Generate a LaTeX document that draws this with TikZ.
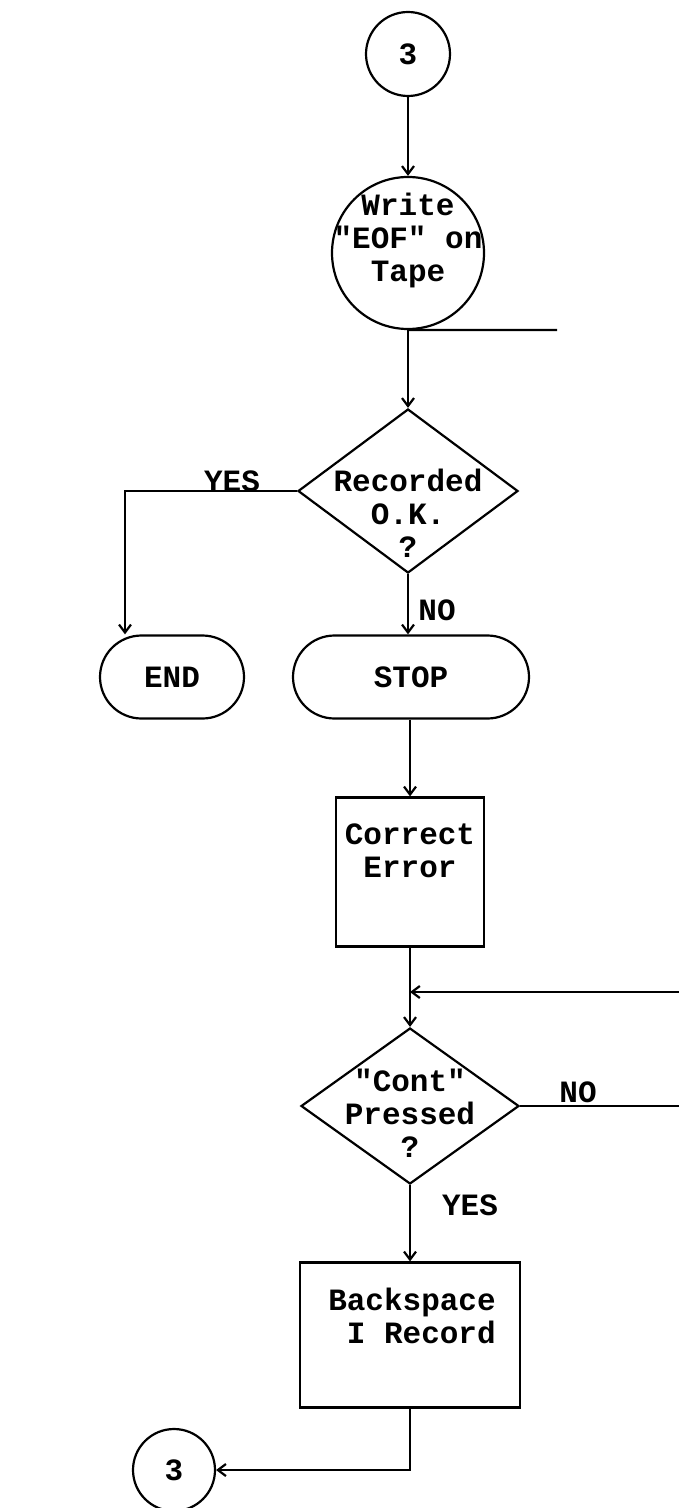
\documentclass[tikz,border=0pt]{standalone}
\usepackage{fontspec}
\setmonofont{Liberation Mono}
\usetikzlibrary{shapes.geometric,shapes.misc,arrows.meta}
\begin{document}
\begin{tikzpicture}[x=0.5pt,y=-0.5pt,
  every node/.style={font=\ttfamily\bfseries\fontsize{15.5}{16.5}\selectfont},
  line/.style={draw,line width=1.1pt},
  arr/.style={line,-{Straight Barb[length=4pt,width=6pt]}},
  conn/.style={circle,draw,line width=1.1pt,inner sep=0pt},
  dia/.style={diamond,draw,line width=1.1pt,inner sep=0pt},
  term/.style={rounded rectangle,draw,line width=1.1pt,inner sep=0pt},
  box/.style={rectangle,draw,line width=1.1pt,inner sep=0pt},
  txt/.style={align=center,inner sep=0pt},
  lbl/.style={inner sep=0pt}]
\useasboundingbox (0,0) rectangle (679,1508);
% nodes
\node[conn,minimum size=42pt] (c1) at (408,54) {};
\node[txt] at (c1) {3};
\node[conn,minimum size=76pt] (w) at (408,253) {};
\node[txt] (wt) at (408,240) {Write\\"EOF" on\\Tape};
\node[dia,minimum width=110pt,minimum height=82pt] (d1) at (408,491) {};
\node[txt] (d1t) at (408,513) {Recorded\\O.K.\\?};
\node[term,minimum width=72pt,minimum height=41.5pt] (endn) at (172,677) {};
\node[txt] at (endn) {END};
\node[term,minimum width=118pt,minimum height=41.5pt] (stop) at (411,677) {};
\node[txt] at (stop) {STOP};
\node[box,minimum width=74pt,minimum height=74.5pt] (corr) at (410,872) {};
\node[txt] (corrt) at (410,851) {Correct\\Error};
\node[dia,minimum width=109pt,minimum height=78pt] (d2) at (410,1106) {};
\node[txt] (d2t) at (410,1113) {"Cont"\\Pressed\\?};
\node[box,minimum width=110pt,minimum height=72.5pt] (back) at (410,1335) {};
\node[txt] (backt) at (412,1316) {Backspace\\\ I Record};
\node[conn,minimum size=41pt] (c3) at (174,1470) {};
\node[txt] at (c3) {3};
% coordinates
\coordinate (wr) at (557,330);
\coordinate (yl) at (125,491);
\coordinate (jn) at (410,992);
\coordinate (re) at (679,992);
\coordinate (nr) at (679,1106);
% connectors
\draw[arr] (c1) -- (w);
\draw[line] (w.south) -- (wr);
\draw[arr] (w.south) -- (d1.north);
\draw[arr] (d1.west) -- (yl) -- (yl |- endn.north);
\node[lbl] at (232,481) {YES};
\draw[arr] (d1.south) -- (d1.south |- stop.north);
\node[lbl] at (437,610) {NO};
\draw[arr] (stop.south -| corr.north) -- (corr.north);
\draw[line] (corr.south) -- (jn);
\draw[arr] (re) -- (jn);
\draw[arr] (jn) -- (d2.north);
\draw[line] (d2.east) -- (nr);
\node[lbl] at (578,1092) {NO};
\draw[arr] (d2.south) -- (back.north);
\node[lbl] at (470,1205) {YES};
\draw[arr] (back.south) |- (c3.east);
\end{tikzpicture}
\end{document}
